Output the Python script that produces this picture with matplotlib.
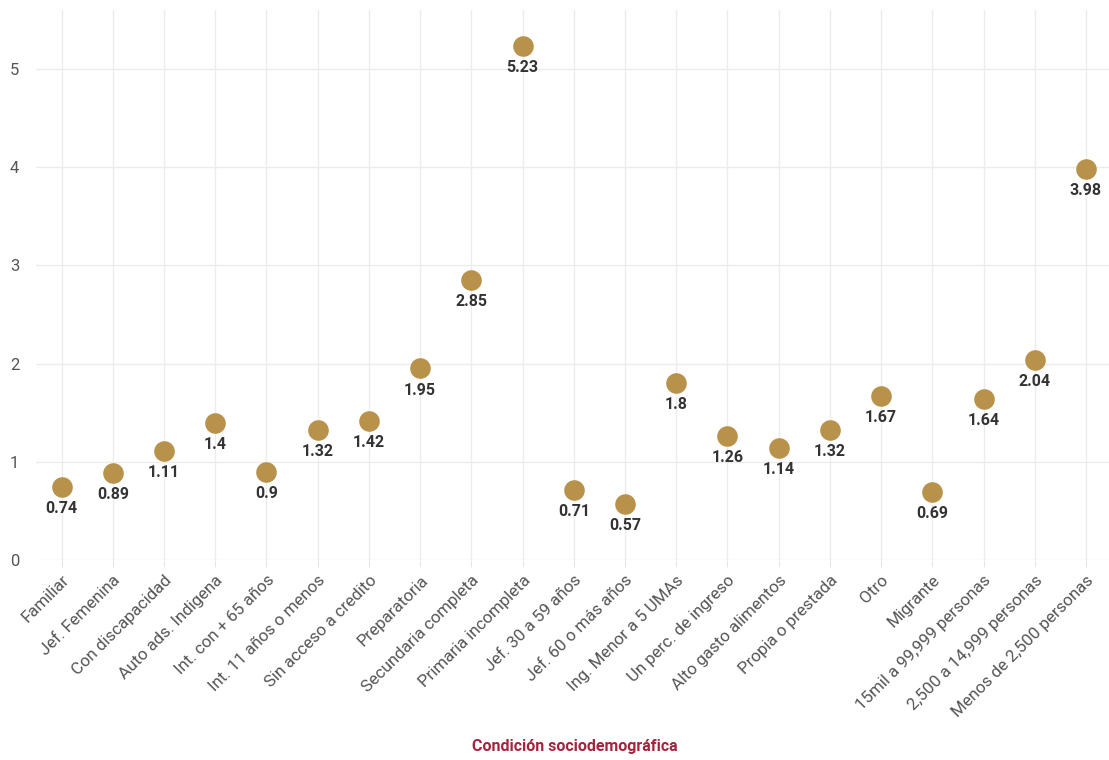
import matplotlib
matplotlib.use("Agg")
import matplotlib.pyplot as plt

categories = ["Familiar", "Jef. Femenina", "Con discapacidad", "Auto ads. Indigena",
              "Int. con + 65 años", "Int. 11 años o menos", "Sin acceso a credito",
              "Preparatoria", "Secundaria completa", "Primaria incompleta",
              "Jef. 30 a 59 años", "Jef. 60 o más años", "Ing. Menor a 5 UMAs",
              "Un perc. de ingreso", "Alto gasto alimentos", "Propia o prestada",
              "Otro", "Migrante", "15mil a 99,999 personas", "2,500 a 14,999 personas",
              "Menos de 2,500 personas"]
values = [0.74, 0.89, 1.11, 1.4, 0.9, 1.32, 1.42, 1.95, 2.85, 5.23,
          0.71, 0.57, 1.8, 1.26, 1.14, 1.32, 1.67, 0.69, 1.64, 2.04, 3.98]
value_labels = ["0.74", "0.89", "1.11", "1.4", "0.9", "1.32", "1.42", "1.95", "2.85", "5.23",
                "0.71", "0.57", "1.8", "1.26", "1.14", "1.32", "1.67", "0.69", "1.64", "2.04", "3.98"]
y_ticks = [0, 1, 2, 3, 4, 5]
x_title = "Condición sociodemográfica"

plt.rcParams['font.family'] = ['Roboto', 'DejaVu Sans']

fig = plt.figure(figsize=(11.09, 7.6), dpi=100)
ax = fig.add_axes([36/1109, 1 - 560/760, 1 - 36/1109, (560 - 10)/760])

x = list(range(len(categories)))
ax.scatter(x, values, s=220, color="#B8924A", zorder=3, linewidths=0)
for xi, v, lab in zip(x, values, value_labels):
    ax.annotate(lab, (xi, v), xytext=(0, -15.5), textcoords="offset points",
                ha="center", va="center", fontsize=11.5, fontweight="bold", color="#333333")

ax.set_xlim(-0.5, 20.45)
ax.set_ylim(0, 5.6)
ax.set_yticks(y_ticks)
ax.set_xticks(x)
ax.set_xticklabels(categories, rotation=45, ha="right", rotation_mode="anchor",
                   fontsize=12.2, color="#555555")
ax.tick_params(axis="y", labelsize=12, colors="#555555", length=0, pad=12)
ax.tick_params(axis="x", length=5, color="#e6e6e6", pad=4)
ax.grid(True, color="#ececec", linewidth=1)
ax.set_axisbelow(True)
for s in ax.spines.values():
    s.set_visible(False)

fig.text(575/1109, 1 - 747/760, x_title, ha="center", va="center", fontsize=11.5,
         fontweight="bold", color="#A3243F")

fig.savefig("out.png", dpi=100, facecolor="white")
